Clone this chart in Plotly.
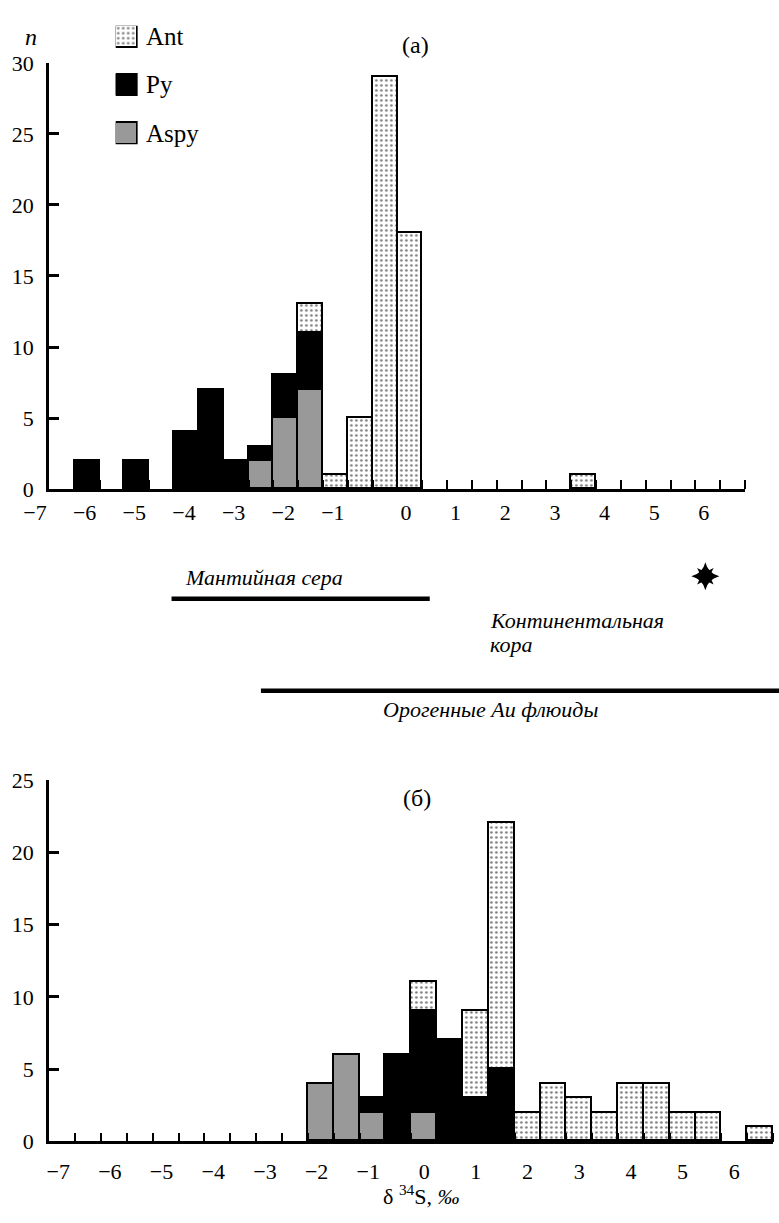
import numpy as np
import plotly.graph_objects as go

W, H = 779, 1223
FONT = "Liberation Serif, Times New Roman, Times, serif"

# ---------------- data ----------------
BIN_WIDTH = 0.5
LEGEND_NAMES = ["Aspy", "Py", "Ant"]

# (a) histogram, bins centred on these δ34S values
a_bins = [-6.5, -5.5, -4.5, -4.0, -3.5, -3.0, -2.5, -2.0, -1.5, -1.0, -0.5, 0.0, 3.5]
a_aspy = [0, 0, 0, 0, 0, 2, 5, 7, 0, 0, 0, 0, 0]
a_py = [2, 2, 4, 7, 2, 1, 3, 4, 0, 0, 0, 0, 0]
a_ant = [0, 0, 0, 0, 0, 0, 0, 2, 1, 5, 29, 18, 1]

# (б) histogram
b_bins = [-2.0, -1.5, -1.0, -0.5, 0.0, 0.5, 1.0, 1.5, 2.0, 2.5, 3.0, 3.5, 4.0, 4.5, 5.0, 5.5, 6.5]
b_aspy = [4, 6, 2, 0, 2, 0, 0, 0, 0, 0, 0, 0, 0, 0, 0, 0, 0]
b_py = [0, 0, 1, 6, 7, 7, 3, 5, 0, 0, 0, 0, 0, 0, 0, 0, 0]
b_ant = [0, 0, 0, 0, 2, 0, 6, 17, 2, 4, 3, 2, 4, 4, 2, 2, 1]

x_labels = [-7, -6, -5, -4, -3, -2, -1, 0, 1, 2, 3, 4, 5, 6]
a_yticks = [0, 5, 10, 15, 20, 25, 30]
b_yticks = [0, 5, 10, 15, 20, 25]

# reference ranges of δ34S (‰)
mantle_range = [-4.8, 0.4]
orogenic_range = [-3.0, 7.6]
crust_value = 5.95

# ---------------- helpers ----------------
def fx(px):
    return px / W

def fy(py):
    return 1 - py / H

def nz(vals):
    return [v if v else None for v in vals]

def lbl(v):
    return ("\u2212" + str(abs(v))) if v < 0 else str(v)

edges = list(np.arange(-6.75, 6.76, BIN_WIDTH))

styles = {
    "Aspy": dict(color="#999999", line=dict(color="black", width=1.8)),
    "Py": dict(color="black", line=dict(color="black", width=1.8)),
    "Ant": dict(color="white", line=dict(color="black", width=1.8),
                pattern=dict(shape=".", fgcolor="black", bgcolor="white",
                             size=5, solidity=0.22)),
}

fig = go.Figure()

for name, vals in zip(LEGEND_NAMES, [a_aspy, a_py, a_ant]):
    fig.add_trace(go.Bar(x=a_bins, y=nz(vals), width=BIN_WIDTH, name=name,
                         marker=styles[name], xaxis="x", yaxis="y",
                         showlegend=False))
for name, vals in zip(LEGEND_NAMES, [b_aspy, b_py, b_ant]):
    fig.add_trace(go.Bar(x=b_bins, y=nz(vals), width=BIN_WIDTH, name=name,
                         marker=styles[name], xaxis="x2", yaxis="y2",
                         showlegend=False))

# legend boxes (drawn as bars on a small auxiliary axis)
for i, name in enumerate(LEGEND_NAMES):
    fig.add_trace(go.Bar(x=[1], y=[i], base=0, width=0.444, orientation="h",
                         marker=styles[name], xaxis="x3", yaxis="y3",
                         showlegend=False, hoverinfo="skip"))

# reference range lines and star (on overlay axis sharing the (a) δ34S scale)
ROW_MANTLE, ROW_OROGEN, ROW_STAR = 599, 693, 576
fig.add_trace(go.Scatter(x=mantle_range, y=[ROW_MANTLE, ROW_MANTLE], mode="lines",
                         line=dict(color="black", width=4.5), xaxis="x4", yaxis="y4",
                         showlegend=False))
fig.add_trace(go.Scatter(x=orogenic_range, y=[ROW_OROGEN, ROW_OROGEN], mode="lines",
                         line=dict(color="black", width=4.5), xaxis="x4", yaxis="y4",
                         showlegend=False))
fig.add_trace(go.Scatter(x=[crust_value, crust_value], y=[ROW_STAR, ROW_STAR],
                         mode="markers",
                         marker=dict(symbol=["star-diamond", "star-square"],
                                     size=[20, 15], color="black", opacity=1,
                                     line=dict(width=0)),
                         xaxis="x4", yaxis="y4", showlegend=False))

axis_common = dict(showgrid=False, zeroline=False, showline=True, linecolor="black",
                   linewidth=2.5, tickfont=dict(family=FONT, size=22, color="black"))

a_range = [-7.27, 6.75]
a_dom = [fx(47), fx(745)]
unit_a = (a_dom[1] - a_dom[0]) * W / (a_range[1] - a_range[0])
x4_range = [a_range[0] - 47 / unit_a, a_range[0] + (W - 47) / unit_a]

neg_shift_a, pos_shift_a = -0.55, -0.08
neg_shift_b = -0.08

fig.update_layout(
    width=W, height=H,
    margin=dict(l=0, r=0, t=0, b=0),
    paper_bgcolor="white", plot_bgcolor="rgba(0,0,0,0)",
    barmode="stack", bargap=0,
    showlegend=False,
    font=dict(family=FONT, color="black"),
    xaxis=dict(axis_common, domain=a_dom, range=a_range, anchor="y",
               ticks="", showticklabels=False,
               minor=dict(tickmode="array", tickvals=edges, ticks="inside",
                          ticklen=9, tickwidth=2, tickcolor="black")),
    yaxis=dict(axis_common, domain=[fy(487), fy(52)], range=[0, 30], anchor="x",
               tickmode="array", tickvals=a_yticks, ticks="inside", ticklen=10,
               tickwidth=2.5, tickcolor="black", ticklabelstandoff=8),
    xaxis2=dict(axis_common, domain=[fx(47), fx(773)], range=[-7.26, 6.75], anchor="y2",
                tickmode="array",
                tickvals=[v + (neg_shift_b if v < 0 else 0) for v in x_labels],
                ticktext=[lbl(v) for v in x_labels], ticks="",
                ticklabelstandoff=8,
                minor=dict(tickmode="array", tickvals=edges, ticks="inside",
                           ticklen=9, tickwidth=2, tickcolor="black")),
    yaxis2=dict(axis_common, domain=[fy(1153), fy(784)], range=[0, 25], anchor="x2",
                tickmode="array", tickvals=b_yticks, ticks="inside", ticklen=10,
                tickwidth=2.5, tickcolor="black", ticklabelstandoff=8),
    xaxis3=dict(domain=[fx(114), fx(136)], range=[0, 1], visible=False, anchor="y3"),
    yaxis3=dict(domain=[fy(135), fy(14)], range=[-0.222, 2.222], visible=False, anchor="x3"),
    xaxis4=dict(domain=[0, 1], range=x4_range, anchor="free", position=fy(487),
                showline=False, showgrid=False, zeroline=False, ticks="",
                tickmode="array",
                tickvals=[v + (neg_shift_a if v < 0 else pos_shift_a) for v in x_labels],
                ticktext=[lbl(v) for v in x_labels],
                tickfont=dict(family=FONT, size=22, color="black"),
                ticklabelstandoff=8),
    yaxis4=dict(domain=[0, 1], range=[H, 0], visible=False, anchor="x4"),
)

ann = []
def add_text(text, x, y, size, xanchor="center", yref="paper", yval=None):
    ann.append(dict(text=text, x=fx(x), xref="paper",
                    y=(fy(y) if yval is None else yval), yref=yref,
                    xanchor=xanchor, yanchor="middle", showarrow=False,
                    font=dict(family=FONT, size=size, color="black")))

add_text("(a)", 415, 34, 24)
add_text("(б)", 416, 802, 24)
add_text("<i>n</i>", 29, 26, 24)
for i, name in enumerate(LEGEND_NAMES):
    add_text(name, 142, None, 25, xanchor="left", yref="y3", yval=i)
add_text("<i>Мантийная сера</i>", 181, 577, 22, xanchor="left")
add_text("<i>Континентальная</i>", 487, 621, 22, xanchor="left")
add_text("<i>кора</i>", 487, 646, 22, xanchor="left")
add_text("<i>Орогенные Au флюиды</i>", 380, 712, 22, xanchor="left")
add_text("δ <sup>34</sup>S, <i>‰</i>", 421, 1208, 22)
fig.update_layout(annotations=ann)

fig.write_html("out.html",
               config={"displayModeBar": False},
               post_script="document.body.style.margin='0';document.body.style.overflow='hidden';")
